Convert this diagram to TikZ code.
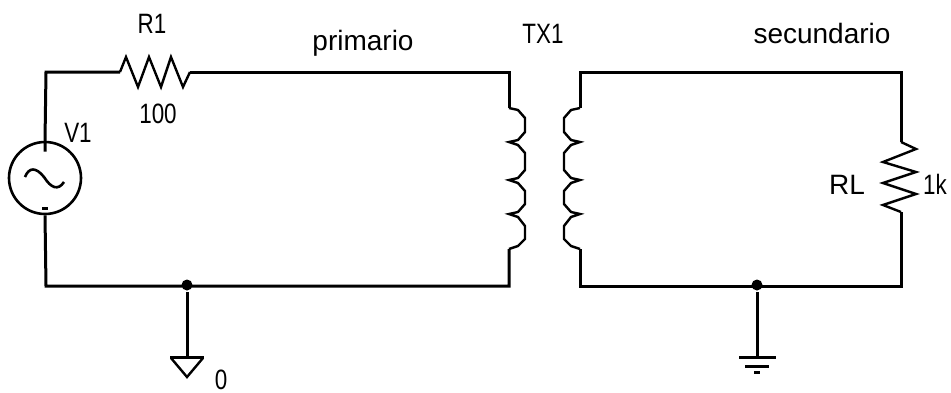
\documentclass[tikz,border=0pt]{standalone}
\usepackage{fontspec}
\setmainfont{Liberation Sans}
\newfontfamily\narrowfont[FakeStretch=0.8]{Liberation Sans}
\usetikzlibrary{positioning}

\begin{document}
\begin{tikzpicture}[x=1pt,y=-1pt,line width=3pt,
        lbl/.style={inner sep=0pt,anchor=base,font=\fontsize{28}{28}\selectfont},
        narrowlbl/.style={inner sep=0pt,anchor=base,font=\narrowfont\fontsize{28}{28}\selectfont},
        src/.style={draw,circle,line width=2.6pt,inner sep=0pt,minimum size=72pt},
        junc/.style={circle,fill=black,inner sep=0pt,minimum size=11pt},
        thin wire/.style={line width=2.4pt}]
        \useasboundingbox (0,0) rectangle (951,392);
        \node[src] (v_1) at (45,178) {};
        \coordinate (tl) at (46,72);
        \coordinate (bl) at (46,286);
        \coordinate (r_1a) at (120,72);
        \coordinate (r_1b) at (190,72);
        \coordinate (p_t) at (509,72);
        \coordinate (p_a) at (509,108);
        \coordinate (p_b) at (509,249);
        \coordinate (p_c) at (509,286);
        \coordinate (s_t) at (580,72);
        \coordinate (s_a) at (580,108);
        \coordinate (s_b) at (580,249);
        \coordinate (s_c) at (580,286);
        \coordinate (tr) at (901,72);
        \coordinate (r_la) at (901,142);
        \coordinate (r_lb) at (901,212);
        \coordinate (br) at (901,286);
        \node[junc] (j_1) at (187,285) {};
        \node[junc] (j_2) at (757,285) {};
        \coordinate (g_1) at (187,357);
        \coordinate (g_2) at (757,357);
        % wires
        \draw (v_1.north) ++(0,11) -- (v_1.north) -- (tl) -- (r_1a);
        \draw (r_1b) -- (p_t) -- (p_a);
        \draw (v_1.south) -- (bl) -- (p_c) -- (p_b);
        \draw (v_1.south) ++(-3,-7) -- ++(6,0);
        \draw (s_a) -- (s_t) -- (tr) -- (r_la);
        \draw (r_lb) -- (br) -- (s_c) -- (s_b);
        \draw (j_1) -- (g_1);
        \draw (j_2) -- (g_2);
        % resistors
        \draw[thin wire] (r_1a) -- ++(6,-15) -- ++(12,30) -- ++(11,-30) -- ++(12,30) -- ++(10,-30) -- ++(12,30) -- (r_1b);
        \draw[thin wire] (r_la) -- ++(15,7) -- ++(-33,13) -- ++(33,10) -- ++(-33,11) -- ++(33,11) -- ++(-33,11) -- (r_lb);
        % source
        \draw[line width=2.6pt] (25,177) .. controls (29,167) and (36,167) .. (44,177) .. controls (51,188) and (58,191) .. (64,182);
        % coils
        \draw[thin wire] (p_a) -- ++(9,2) -- ++(7,8) -- ++(0,14) -- ++(-7,8) -- ++(-9,2)
            -- ++(9,3) -- ++(7,8) -- ++(0,17) -- ++(-7,8) -- ++(-9,2)
            -- ++(9,3) -- ++(7,8) -- ++(0,13) -- ++(-7,8) -- ++(-9,2)
            -- ++(9,3) -- ++(7,9) -- ++(0,13) -- ++(-7,7) -- (p_b);
        \draw[thin wire] (s_a) -- ++(-9,2) -- ++(-7,8) -- ++(0,14) -- ++(7,8) -- ++(9,2)
            -- ++(-9,3) -- ++(-7,8) -- ++(0,17) -- ++(7,8) -- ++(9,2)
            -- ++(-9,3) -- ++(-7,8) -- ++(0,13) -- ++(7,8) -- ++(9,2)
            -- ++(-9,3) -- ++(-7,9) -- ++(0,13) -- ++(7,7) -- (s_b);
        % grounds
        \draw (g_1) ++(-17,0) -- ++(34,0);
        \draw[thin wire] (g_1) ++(-16,1) -- ++(16,19) -- ++(16,-19);
        \draw (g_2) ++(-18,0) -- ++(37,0);
        \draw (g_2) ++(-12,9) -- ++(24,0);
        \draw (g_2) ++(-3,15) -- ++(6,0);
        % labels
        \node[narrowlbl] (l_r1) at (152,33) {R1};
        \node[narrowlbl] (l_100) at (158,123) {100};
        \node[narrowlbl] (l_v1) at (78,142) {V1};
        \node[lbl] (l_prim) at (363,50) {primario};
        \node[narrowlbl] (l_tx) at (543,43) {TX1};
        \node[lbl] (l_sec) at (822,43) {secundario};
        \node[lbl] (l_rl) at (847,194) {RL};
        \node[narrowlbl] (l_1k) at (935,194) {1k};
        \node[narrowlbl] (l_0) at (221,389) {0};
    \end{tikzpicture}
\end{document}
